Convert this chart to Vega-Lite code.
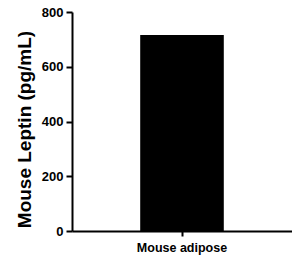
{
  "$schema": "https://vega.github.io/schema/vega-lite/v6.json",
  "autosize": "none",
  "padding": {"left": 72, "top": 12, "right": 0, "bottom": 29},
  "width": 220,
  "height": 219,
  "background": "white",
  "data": {"values": [{"sample": "Mouse adipose", "leptin": 716}]},
  "mark": {"type": "bar", "color": "black"},
  "encoding": {
    "x": {
      "field": "sample", "type": "nominal",
      "scale": {"paddingInner": 0.62, "paddingOuter": 0.31},
      "axis": {
        "title": null, "labelAngle": 0, "labelFont": "Liberation Sans", "labelFontWeight": "bold",
        "labelFontSize": 12.5, "labelColor": "black", "labelPadding": 5,
        "domainColor": "black", "domainWidth": 2, "tickColor": "black", "tickWidth": 2, "tickSize": 5
      }
    },
    "y": {
      "field": "leptin", "type": "quantitative",
      "scale": {"domain": [0, 800], "nice": false},
      "axis": {
        "title": "Mouse Leptin (pg/mL)", "values": [0, 200, 400, 600, 800], "grid": false,
        "titleFont": "Liberation Sans", "titleFontWeight": "bold", "titleFontSize": 19, "titleColor": "black",
        "titlePadding": 7, "titleY": 117,
        "labelFont": "Liberation Sans", "labelFontWeight": "bold", "labelFontSize": 13, "labelColor": "black",
        "labelPadding": 3,
        "domainColor": "black", "domainWidth": 2, "tickColor": "black", "tickWidth": 2, "tickSize": 6
      }
    }
  },
  "config": {"view": {"stroke": null}}
}
